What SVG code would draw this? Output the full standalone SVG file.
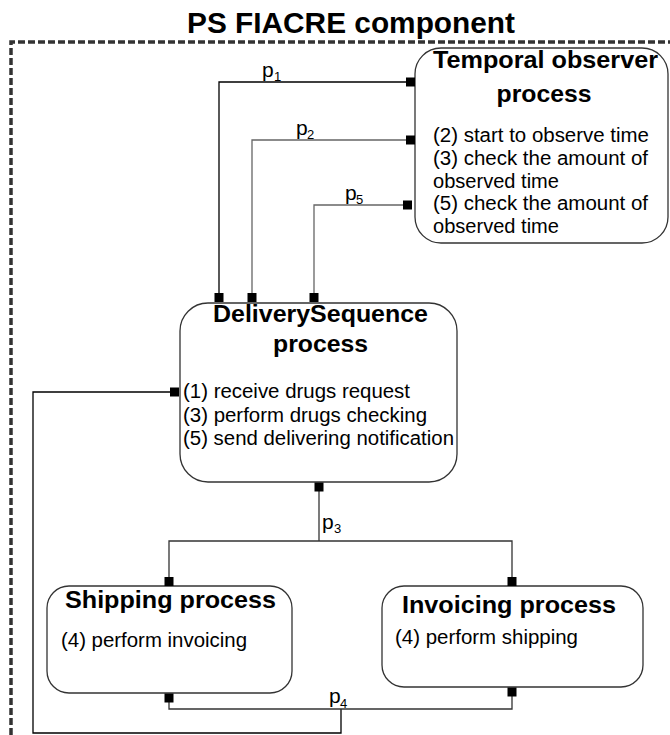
<svg xmlns="http://www.w3.org/2000/svg" width="670" height="735" viewBox="0 0 670 735">
<style>
text{font-family:"Liberation Sans",Arial,Helvetica,sans-serif;fill:#000}
.ttl{font-weight:bold;font-size:24px}
.body{font-size:19.5px}
.pl{font-size:21px}
.sub{font-size:13px}
.box{fill:#fff;stroke:#333;stroke-width:1.3}
.port{fill:#000}
.cb{fill:none;stroke:#000;stroke-width:1.3}
.cg{fill:none;stroke:#666;stroke-width:1.3}
.cd{fill:none;stroke:#333;stroke-width:1.3}
.border{fill:none;stroke:#333;stroke-width:3.5;stroke-dasharray:7 3}
</style>
<rect width="670" height="735" fill="#fff"/>
<g id="component">
<path class="border" d="M11,735 V42 H670"/>
<text x="187" y="33" font-size="29" font-weight="bold" textLength="328" lengthAdjust="spacingAndGlyphs">PS FIACRE component</text>
</g>
<g id="connectors">
<polyline class="cb" points="219,293 219,82 406,82"/>
<polyline class="cg" points="252,293 252,140 406,140"/>
<polyline class="cg" points="314,293 314,205 403,205"/>
<polyline class="cb" points="170,392 33,392 33,733 341,733 341,709"/>
<polyline class="cd" points="319,490 319,541"/>
<polyline class="cd" points="169,577 169,541 512,541 512,577"/>
<polyline class="cd" points="169,702 169,709 512,709 512,696"/>
<text class="pl" x="262" y="77">p</text><text class="sub" x="274" y="81">1</text>
<text class="pl" x="296" y="135">p</text><text class="sub" x="307" y="139">2</text>
<text class="pl" x="345" y="200">p</text><text class="sub" x="356" y="204">5</text>
<text class="pl" x="322" y="529">p</text><text class="sub" x="334" y="533">3</text>
<text class="pl" x="329" y="703">p</text><text class="sub" x="340" y="708">4</text>
</g>
<g id="temporal">
<rect class="box" x="415" y="48" width="253" height="195" rx="26"/>
<text class="ttl" x="433" y="68" textLength="225" lengthAdjust="spacingAndGlyphs">Temporal observer</text>
<text class="ttl" x="496.5" y="102" textLength="95" lengthAdjust="spacingAndGlyphs">process</text>
<text class="body" x="433" y="142" textLength="216" lengthAdjust="spacingAndGlyphs">(2) start to observe time</text>
<text class="body" x="433" y="165" textLength="215" lengthAdjust="spacingAndGlyphs">(3) check the amount of</text>
<text class="body" x="433" y="187.5" textLength="126" lengthAdjust="spacingAndGlyphs">observed time</text>
<text class="body" x="433" y="210" textLength="215" lengthAdjust="spacingAndGlyphs">(5) check the amount of</text>
<text class="body" x="433" y="233" textLength="126" lengthAdjust="spacingAndGlyphs">observed time</text>
<rect class="port" x="406" y="77.5" width="9" height="9"/>
<rect class="port" x="406" y="135.5" width="9" height="9"/>
<rect class="port" x="403" y="200.5" width="9" height="9"/>
</g>
<g id="delivery">
<rect class="box" x="180" y="303" width="277" height="179" rx="28"/>
<text class="ttl" x="213" y="322" textLength="215" lengthAdjust="spacingAndGlyphs">DeliverySequence</text>
<text class="ttl" x="273" y="352" textLength="95" lengthAdjust="spacingAndGlyphs">process</text>
<text class="body" x="183" y="398" textLength="227" lengthAdjust="spacingAndGlyphs">(1) receive drugs request</text>
<text class="body" x="183" y="422" textLength="244" lengthAdjust="spacingAndGlyphs">(3) perform drugs checking</text>
<text class="body" x="183" y="445" textLength="271" lengthAdjust="spacingAndGlyphs">(5) send delivering notification</text>
<rect class="port" x="214.5" y="293" width="9" height="9"/>
<rect class="port" x="247.5" y="293" width="9" height="9"/>
<rect class="port" x="309.5" y="293" width="9" height="9"/>
<rect class="port" x="170" y="387.5" width="9" height="9"/>
<rect class="port" x="314.5" y="482.5" width="9" height="9"/>
</g>
<g id="shipping">
<rect class="box" x="47" y="586" width="245" height="107" rx="22"/>
<text class="ttl" x="65" y="608" textLength="211" lengthAdjust="spacingAndGlyphs">Shipping process</text>
<text class="body" x="61" y="647" textLength="186" lengthAdjust="spacingAndGlyphs">(4) perform invoicing</text>
<rect class="port" x="164.5" y="577" width="9" height="9"/>
<rect class="port" x="164.5" y="693.5" width="9" height="9"/>
</g>
<g id="invoicing">
<rect class="box" x="382" y="586" width="261" height="101" rx="22"/>
<text class="ttl" x="402" y="613" textLength="214" lengthAdjust="spacingAndGlyphs">Invoicing process</text>
<text class="body" x="395" y="644" textLength="183" lengthAdjust="spacingAndGlyphs">(4) perform shipping</text>
<rect class="port" x="507.5" y="577" width="9" height="9"/>
<rect class="port" x="507.5" y="687.5" width="9" height="9"/>
</g>
</svg>
